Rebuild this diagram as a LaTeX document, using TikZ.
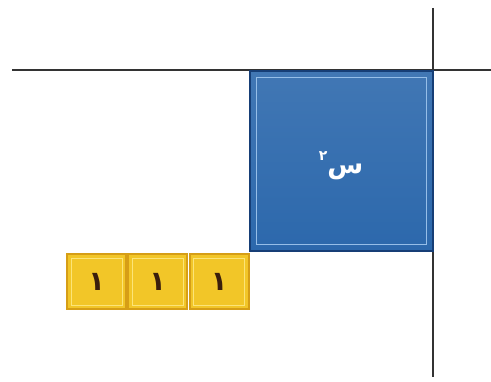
\documentclass[tikz,border=0pt]{standalone}
\usepackage{fontspec}
\newfontfamily\arabicfont[Script=Arabic]{DejaVu Sans}
\TeXXeTstate=1
\definecolor{sqB}{RGB}{44,104,172}
\definecolor{sqBd}{RGB}{22,62,118}
\definecolor{sqBl}{RGB}{150,190,232}
\definecolor{tileY}{RGB}{242,198,40}
\definecolor{tileYd}{RGB}{214,158,22}
\definecolor{tileYl}{RGB}{252,228,120}
\definecolor{digitD}{RGB}{58,30,12}
\tikzset{
  sqbox/.style={draw=sqBd,line width=2.5pt,top color=sqB!90!white,bottom color=sqB,minimum width=183pt,minimum height=180pt,inner sep=0pt},
  unitbox/.style={draw=tileYd,line width=2pt,fill=tileY,minimum width=59pt,minimum height=55pt,inner sep=0pt},
}
\begin{document}
\begin{tikzpicture}[x=1pt,y=-1pt]
\useasboundingbox (0,0) rectangle (491,382);
% axes
\draw[black!80,line width=1.6pt] (12,70)--(491,70);
\draw[black!80,line width=1.6pt] (433,8)--(433,377);
% x^2 square
\node[sqbox] (sq) at (341.5,161) {};
\draw[sqBl,line width=1pt] ([shift={(8,8)}]sq.north west) rectangle ([shift={(-8,-8)}]sq.south east);
\node[font=\arabicfont\bfseries\fontsize{26}{26}\selectfont,text=white] (sqlbl) at (341,166) {\beginR س\raisebox{13pt}{\fontsize{14}{14}\selectfont ٢}\endR};
% unit tiles
\foreach \i/\cx in {1/96.5,2/157.5,3/219} {
  \node[unitbox] (u\i) at (\cx,282) {};
  \draw[tileYl,line width=0.8pt] ([shift={(5,5)}]u\i.north west) rectangle ([shift={(-5,-5)}]u\i.south east);
  \node[font=\arabicfont\bfseries\fontsize{27}{27}\selectfont,text=digitD] (one\i) at (u\i) {١};
}
\end{tikzpicture}
\end{document}
